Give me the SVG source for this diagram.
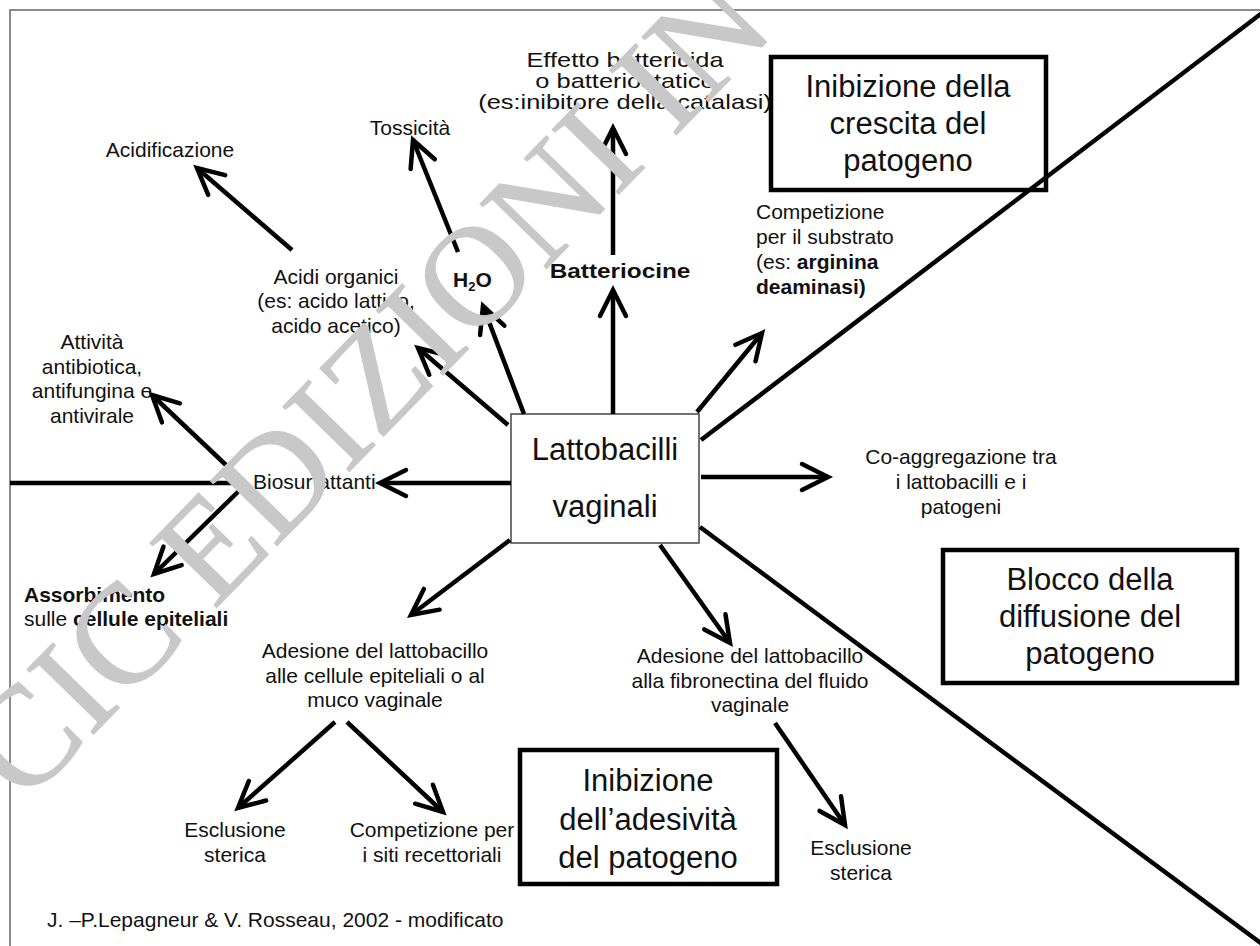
<svg xmlns="http://www.w3.org/2000/svg" width="1260" height="946" viewBox="0 0 1260 946">
<defs>
<marker id="ah" markerUnits="userSpaceOnUse" viewBox="-34 -22 44 44" refX="0" refY="0" markerWidth="44" markerHeight="44" orient="auto" overflow="visible">
<path d="M-26,-13 L0,0 L-26,13" fill="none" stroke="#000" stroke-width="4.5" stroke-linecap="round" stroke-linejoin="miter"/>
</marker>
<style>
.t{font-family:"Liberation Sans",Arial,sans-serif;font-size:21px;fill:#111;text-anchor:middle}
.l{text-anchor:start}
.b{font-weight:bold}
.big{font-size:31px}
.ar{stroke:#000;stroke-width:4.5;fill:none;marker-end:url(#ah)}
.ln{stroke:#000;stroke-width:4.5;fill:none}
.box{fill:#fff;stroke:#000;stroke-width:4.5}
.wm{font-family:"Liberation Serif","Times New Roman",serif;font-size:142px;fill:#c8c8c8;stroke:#c8c8c8;stroke-width:1}
</style>
</defs>
<rect width="1260" height="946" fill="#fff"/>
<path d="M10,946 V10 H1260" stroke="#666" stroke-width="1.5" fill="none"/>

<g id="lattobacilli">
<rect x="511" y="414" width="188" height="129" fill="#fff" stroke="#444" stroke-width="1.5"/>
<text class="t big" x="605" y="460">Lattobacilli</text>
<text class="t big" x="605" y="517">vaginali</text>
</g>
<g id="box-crescita">
<rect class="box" x="771" y="57" width="275" height="133"/>
<text class="t big" x="908" y="97">Inibizione della</text>
<text class="t big" x="908" y="134">crescita del</text>
<text class="t big" x="908" y="171">patogeno</text>
</g>
<g id="box-diffusione">
<rect class="box" x="943" y="550" width="294" height="133"/>
<text class="t big" x="1090" y="590">Blocco della</text>
<text class="t big" x="1090" y="627">diffusione del</text>
<text class="t big" x="1090" y="664">patogeno</text>
</g>
<g id="box-adesivita">
<rect class="box" x="520" y="750" width="257" height="134"/>
<text class="t big" x="648" y="791">Inibizione</text>
<text class="t big" x="648" y="830">dell’adesività</text>
<text class="t big" x="648" y="868">del patogeno</text>
</g>
<g id="acidificazione"><text class="t" x="170" y="157">Acidificazione</text></g>
<g id="tossicita"><text class="t" x="410" y="135">Tossicità</text></g>
<g id="effetto">
<text class="t" font-size="17" transform="translate(625 67) scale(1.21 1)">Effetto battericida</text>
<text class="t" font-size="17" transform="translate(625 88) scale(1.21 1)">o batteriostatico</text>
<text class="t" font-size="17" transform="translate(625 109) scale(1.21 1)">(es:inibitore della catalasi)</text>
</g>
<g id="acidi">
<text class="t" x="336" y="284">Acidi organici</text>
<text class="t" x="336" y="308">(es: acido lattico,</text>
<text class="t" x="336" y="333">acido acetico)</text>
</g>
<g id="h2o"><text class="t l b" x="453" y="287" font-size="19">H<tspan font-size="13" dy="4">2</tspan><tspan dy="-4">O</tspan></text></g>
<g id="batteriocine"><text class="t b" font-size="18" transform="translate(620 278) scale(1.16 1)">Batteriocine</text></g>
<g id="competizione-substrato">
<text class="t l" x="756" y="219">Competizione</text>
<text class="t l" x="756" y="244">per il substrato</text>
<text class="t l" x="756" y="269">(es: <tspan class="b">arginina</tspan></text>
<text class="t l b" x="756" y="294">deaminasi)</text>
</g>
<g id="coaggregazione">
<text class="t" x="961" y="464">Co-aggregazione tra</text>
<text class="t" x="961" y="489">i lattobacilli e i</text>
<text class="t" x="961" y="514">patogeni</text>
</g>
<g id="attivita">
<text class="t" x="92" y="349">Attività</text>
<text class="t" x="92" y="374">antibiotica,</text>
<text class="t" x="92" y="398">antifungina e</text>
<text class="t" x="92" y="423">antivirale</text>
</g>
<g id="biosurfattanti"><text class="t l" x="253" y="489">Biosurfattanti</text></g>
<g id="assorbimento">
<text class="t l b" x="24" y="602">Assorbimento</text>
<text class="t l" x="24" y="626">sulle <tspan class="b">cellule epiteliali</tspan></text>
</g>
<g id="adesione-cellule">
<text class="t" x="375" y="658">Adesione del lattobacillo</text>
<text class="t" x="375" y="683">alle cellule epiteliali o al</text>
<text class="t" x="375" y="707">muco vaginale</text>
</g>
<g id="adesione-fibronectina">
<text class="t" x="750" y="663">Adesione del lattobacillo</text>
<text class="t" x="750" y="688">alla fibronectina del fluido</text>
<text class="t" x="750" y="712">vaginale</text>
</g>
<g id="esclusione-1">
<text class="t" x="235" y="837">Esclusione</text>
<text class="t" x="235" y="862">sterica</text>
</g>
<g id="competizione-siti">
<text class="t" x="432" y="837">Competizione per</text>
<text class="t" x="432" y="862">i siti recettoriali</text>
</g>
<g id="esclusione-2">
<text class="t" x="861" y="855">Esclusione</text>
<text class="t" x="861" y="880">sterica</text>
</g>
<g id="credit"><text class="t l" x="47" y="927" font-size="17.5">J. –P.Lepagneur &amp; V. Rosseau, 2002 - modificato</text></g>

<g id="connectors">
<line class="ln" x1="701" y1="440" x2="1262" y2="13"/>
<line class="ln" x1="700" y1="527" x2="1262" y2="944"/>
<line class="ln" x1="10" y1="483" x2="246" y2="483"/>
<line class="ar" x1="292" y1="250" x2="197" y2="168"/>
<line class="ar" x1="458" y1="252" x2="413" y2="140"/>
<line class="ar" x1="524" y1="414" x2="483" y2="306"/>
<line class="ar" x1="508" y1="425" x2="418" y2="348"/>
<line class="ar" x1="613" y1="414" x2="613" y2="290"/>
<line class="ar" x1="613" y1="255" x2="613" y2="128"/>
<line class="ar" x1="697" y1="412" x2="762" y2="333"/>
<line class="ar" x1="701" y1="477" x2="828" y2="477"/>
<line class="ar" x1="511" y1="483" x2="380" y2="483"/>
<line class="ar" x1="245" y1="483" x2="152" y2="395"/>
<line class="ar" x1="245" y1="485" x2="154" y2="574"/>
<line class="ar" x1="510" y1="540" x2="411" y2="615"/>
<line class="ar" x1="660" y1="545" x2="730" y2="643"/>
<line class="ar" x1="335" y1="722" x2="238" y2="808"/>
<line class="ar" x1="347" y1="722" x2="443" y2="812"/>
<line class="ar" x1="775" y1="723" x2="845" y2="825"/>
</g>

<text class="wm" transform="translate(24,806) rotate(-45.8)">CIC EDIZIONI IN</text>
</svg>
